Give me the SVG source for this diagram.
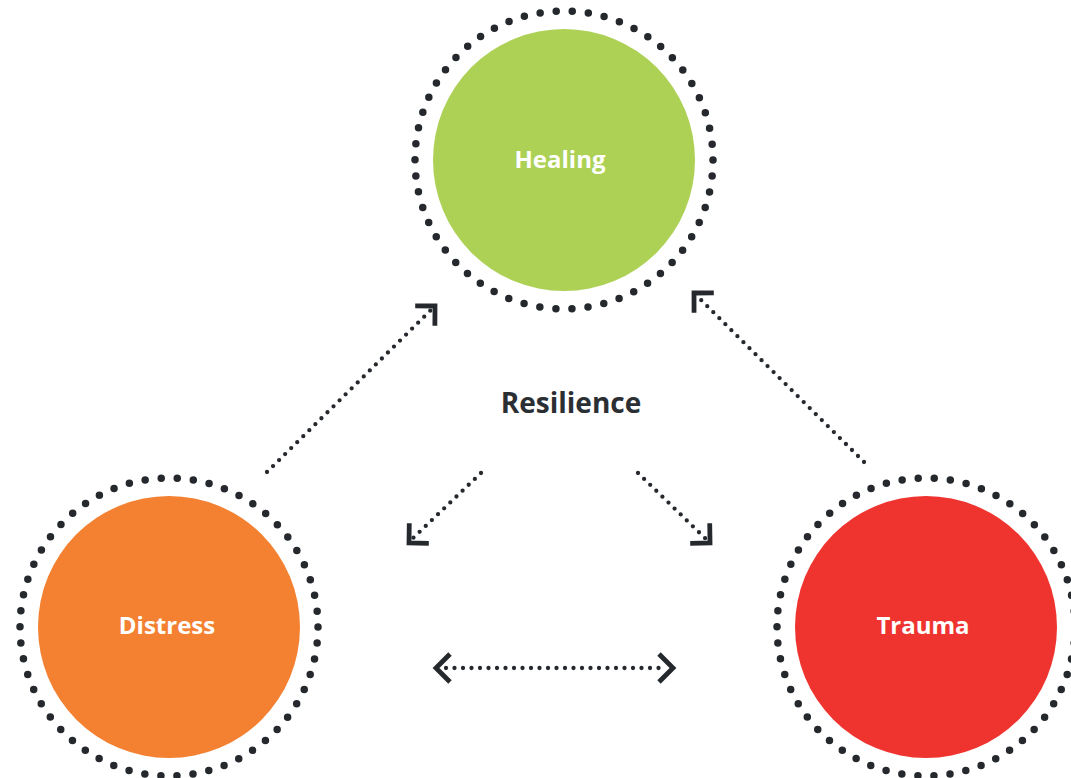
<svg xmlns="http://www.w3.org/2000/svg" width="1071" height="778" viewBox="0 0 1071 778">
<style>
.ring{fill:none;stroke:#25292d;stroke-width:7.5;stroke-linecap:round;stroke-dasharray:0 16.14}
.lbl{font-family:"Open Sans","Liberation Sans",sans-serif;font-weight:bold;font-size:24px;fill:#ffffff;text-anchor:middle}
.conn{fill:none;stroke:#25292d;stroke-width:4.3;stroke-linecap:round;stroke-dasharray:0 8.5}
.head{fill:none;stroke:#25292d;stroke-width:4.8;stroke-linejoin:miter}
</style>
<defs>
<marker id="ah" markerUnits="userSpaceOnUse" viewBox="-20 -20 24 40" markerWidth="24" markerHeight="40" refX="0" refY="0" orient="auto-start-reverse" overflow="visible">
<path class="head" d="M-14,-14 L0,0 L-14,14"/>
</marker>
</defs>
<rect width="1071" height="778" fill="#ffffff"/>
<g id="healing">
<circle cx="564" cy="160" r="131" fill="#acd155"/>
<circle class="ring" cx="564" cy="160" r="149"/>
<text class="lbl" x="560" y="168">Healing</text>
</g>
<g id="distress">
<circle cx="169" cy="627" r="131" fill="#f48131"/>
<circle class="ring" cx="169" cy="627" r="149"/>
<text class="lbl" x="167" y="634">Distress</text>
</g>
<g id="trauma">
<circle cx="926" cy="627" r="131" fill="#ef3430"/>
<circle class="ring" cx="926" cy="627" r="149"/>
<text class="lbl" x="923" y="634">Trauma</text>
</g>
<g id="resilience">
<text x="571" y="413" font-family="'Open Sans','Liberation Sans',sans-serif" font-weight="bold" font-size="28" fill="#2b2f33" text-anchor="middle">Resilience</text>
</g>
<g id="connectors">
<path class="conn" d="M267,472 L434,307"/>
<path d="M267,472 L435,306" fill="none" stroke="none" marker-end="url(#ah)"/>
<path class="conn" d="M864,462 L696,295"/>
<path d="M864,462 L694,293" fill="none" stroke="none" marker-end="url(#ah)"/>
<path class="conn" d="M481,473 L410,541"/>
<path d="M481,473 L409,543" fill="none" stroke="none" marker-end="url(#ah)"/>
<path class="conn" d="M638,473 L708,541"/>
<path d="M638,473 L710,543" fill="none" stroke="none" marker-end="url(#ah)"/>
<path class="conn" d="M446,668 L664,668"/>
<path d="M436,668 L673,668" fill="none" stroke="none" marker-start="url(#ah)" marker-end="url(#ah)"/>
</g>
</svg>
